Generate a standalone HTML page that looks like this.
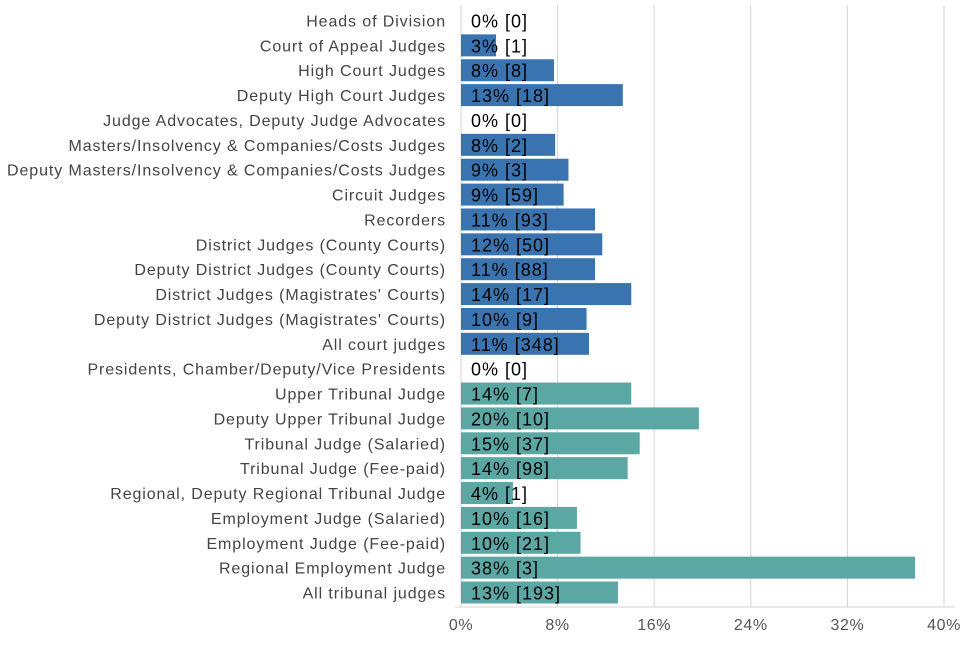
<!DOCTYPE html>
<html><head><meta charset="utf-8"><style>
body{margin:0;background:#fff;width:960px;height:640px;overflow:hidden}
svg{font-family:"Liberation Sans",sans-serif}
</style></head><body>
<svg id="chart" width="960" height="640"></svg>
<script>
const categories=["Heads of Division","Court of Appeal Judges","High Court Judges","Deputy High Court Judges","Judge Advocates, Deputy Judge Advocates","Masters/Insolvency & Companies/Costs Judges","Deputy Masters/Insolvency & Companies/Costs Judges","Circuit Judges","Recorders","District Judges (County Courts)","Deputy District Judges (County Courts)","District Judges (Magistrates' Courts)","Deputy District Judges (Magistrates' Courts)","All court judges","Presidents, Chamber/Deputy/Vice Presidents","Upper Tribunal Judge","Deputy Upper Tribunal Judge","Tribunal Judge (Salaried)","Tribunal Judge (Fee-paid)","Regional, Deputy Regional Tribunal Judge","Employment Judge (Salaried)","Employment Judge (Fee-paid)","Regional Employment Judge","All tribunal judges"];
const values=[0,2.9,7.7,13.4,0,7.8,8.9,8.5,11.1,11.7,11.1,14.1,10.4,10.6,0,14.1,19.7,14.8,13.8,4.3,9.6,9.9,37.6,13.0];
const counts=[0,1,8,18,0,2,3,59,93,50,88,17,9,348,0,7,10,37,98,1,16,21,3,193];
const groups=["court","court","court","court","court","court","court","court","court","court","court","court","court","court","tribunal","tribunal","tribunal","tribunal","tribunal","tribunal","tribunal","tribunal","tribunal","tribunal"];
const ticks=[0,8,16,24,32,40];
const svg=document.getElementById('chart');
const NS='http://www.w3.org/2000/svg';
const x0=461,x1=944,xmax=40,top0=9.5,step=24.87,bh=22;
const xs=v=>x0+(v/xmax)*(x1-x0);
const ys=i=>top0+i*step;
function mk(t,a){const e=document.createElementNS(NS,t);for(const k in a)e.setAttribute(k,a[k]);svg.appendChild(e);return e;}
ticks.forEach((t,i)=>{
  const l=mk('line',{x1:xs(t),x2:xs(t),y1:5,y2:607,stroke:'#d4d4d4','stroke-width':1});
  
  
  const tx=mk('text',{x:xs(t),y:630,'text-anchor':'middle','font-size':16,fill:'#555','letter-spacing':0.6});
  tx.textContent=t+'%';
  
  
});
const ax=mk('line',{x1:455,x2:955,y1:607,y2:607,stroke:'#d4d4d4','stroke-width':1});


categories.forEach((c,i)=>{
  const y=ys(i);
  const r=mk('rect',{x:x0,y:y,width:Math.max(0,xs(values[i])-x0),height:bh,fill:groups[i]=='court'?'#3a74b0':'#5aa7a3'});
  
  
  const lb=mk('text',{x:446,y:y+bh/2+6,'text-anchor':'end','font-size':16,fill:'#444','letter-spacing':0.9});
  lb.textContent=c;
  
  
  const v=mk('text',{x:471,y:y+bh/2+7,'font-size':18,fill:'#000','letter-spacing':1});
  v.textContent=Math.round(values[i])+'% ['+counts[i]+']';
  
  
});
</script>
</body></html>
